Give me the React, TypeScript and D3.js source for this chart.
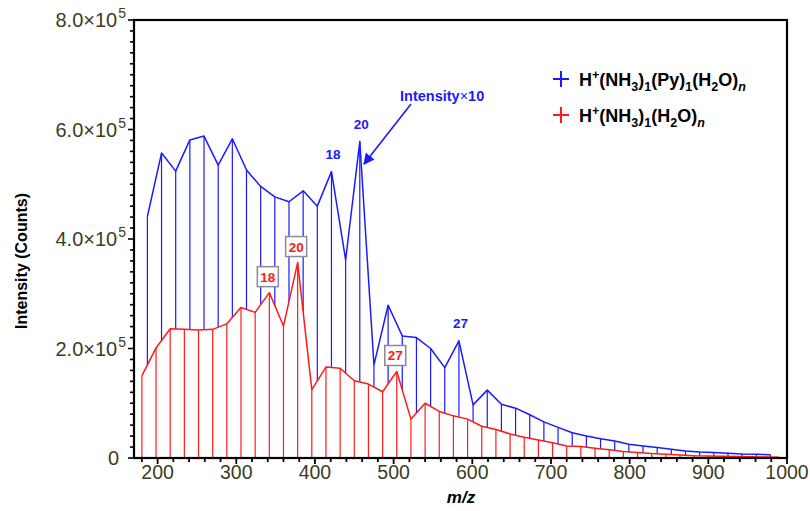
import React from "react";
import * as d3 from "d3";

const blueMz = [187,205,223,241,259,277,295,313,331,349,367,385,403,421,439,457,475,493,511,529,547,565,583,601,619,637,655,673,691,709,727,745,763,781,799,817,835,853,871,889,907,925,943,961,979];
const blueVal = [4.41,5.57,5.24,5.81,5.88,5.35,5.83,5.26,4.96,4.77,4.68,4.88,4.60,5.23,3.62,5.78,1.70,2.79,2.23,2.20,2.00,1.65,2.14,0.97,1.24,0.98,0.91,0.79,0.66,0.56,0.46,0.40,0.35,0.31,0.25,0.22,0.19,0.16,0.13,0.11,0.10,0.085,0.073,0.068,0.06];
const redMz = [180,198,216,234,252,270,288,306,324,342,360,378,396,414,432,450,468,486,504,522,540,558,576,594,612,630,648,666,684,702,720,738,756,774,792,810,828,846,864,882,900,918,936,954,972,990];
const redVal = [1.50,2.01,2.36,2.35,2.34,2.35,2.45,2.75,2.66,3.02,2.41,3.57,1.25,1.66,1.64,1.41,1.35,1.21,1.58,0.71,1.00,0.85,0.77,0.71,0.58,0.52,0.44,0.38,0.33,0.28,0.22,0.21,0.18,0.15,0.12,0.10,0.08,0.068,0.055,0.042,0.036,0.03,0.028,0.025,0.02,0.015];
const blueLabels = [{ mz: 421, text: "18" }, { mz: 457, text: "20" }, { mz: 583, text: "27" }];
const redLabels = [{ mz: 342, text: "18" }, { mz: 378, text: "20" }, { mz: 504, text: "27" }];
const xTickLabels = [200, 300, 400, 500, 600, 700, 800, 900, 1000];
const yTickMantissa = [2.0, 4.0, 6.0, 8.0];

const SCALE = 1e5;
const BLUE = "#1a1aff";
const RED = "#ff1a1a";
const TICKCOL = "#3c3c1e";
const FONT = "'Liberation Sans', Arial, sans-serif";

export default function App() {
  const x = d3.scaleLinear().domain([170, 1000]).range([134, 787]);
  const y = d3.scaleLinear().domain([0, 8e5]).range([458, 20]);
  const blue = blueMz.map((m, i) => ({ m, v: blueVal[i] * SCALE }));
  const red = redMz.map((m, i) => ({ m, v: redVal[i] * SCALE }));
  const line = d3.line<{ m: number; v: number }>().x(d => x(d.m)).y(d => y(d.v));
  const area = d3.area<{ m: number; v: number }>().x(d => x(d.m)).y0(y(0)).y1(d => y(d.v));
  const xMinor = d3.range(180, 1001, 20);
  const yMinor = d3.range(0, 8e5 + 1, 2e4);
  const valAt = (arr: { m: number; v: number }[], m: number) => arr.find(d => d.m === m)!.v;

  const sub = (t: string, italic = false) => (
    <tspan dy={4.5} fontSize={12.5} fontStyle={italic ? "italic" : undefined}>{t}</tspan>
  );

  return (
    <svg width={810} height={511} style={{ position: "absolute", left: 0, top: 0, background: "#fff" }} fontFamily={FONT}>
      <defs>
        <marker id="arr" viewBox="0 0 10 10" refX="9" refY="5" markerWidth="7" markerHeight="7" orient="auto">
          <path d="M0,0 L10,5 L0,10 z" fill={BLUE} />
        </marker>
      </defs>
      {/* blue stems */}
      {blue.map(d => (
        <line key={"bs" + d.m} x1={x(d.m)} x2={x(d.m)} y1={y(d.v)} y2={y(0)} stroke={BLUE} strokeWidth={1.2} />
      ))}
      <path d={line(blue)!} fill="none" stroke={BLUE} strokeWidth={1.5} strokeLinejoin="round" />
      {/* red area covering */}
      <path d={area(red)!} fill="#fff" stroke="none" />
      {red.map(d => (
        <line key={"rs" + d.m} x1={x(d.m)} x2={x(d.m)} y1={y(d.v)} y2={y(0)} stroke={RED} strokeWidth={1.2} />
      ))}
      <path d={line(red)!} fill="none" stroke={RED} strokeWidth={1.5} strokeLinejoin="round" />

      {/* frame */}
      <rect x={134} y={20} width={653} height={438} fill="none" stroke="#000" strokeWidth={2.2} />

      {/* x ticks */}
      {xMinor.map(t => (
        <line key={"xt" + t} x1={x(t)} x2={x(t)} y1={459} y2={t % 100 === 0 ? 464 : 462} stroke="#000" strokeWidth={1.8} />
      ))}
      {xTickLabels.map(t => (
        <text key={"xl" + t} x={x(t)} y={479} textAnchor="middle" fontSize={19.5} fill={TICKCOL}>{t}</text>
      ))}
      {/* y ticks */}
      {yMinor.map(t => (
        <line key={"yt" + t} x1={133} x2={t % 2e5 === 0 ? 128 : 130} y1={y(t)} y2={y(t)} stroke="#000" strokeWidth={1.6} />
      ))}
      <text x={119} y={y(0) + 7} textAnchor="end" fontSize={20} fill={TICKCOL}>0</text>
      {yTickMantissa.map(mv => (
        <text key={"yl" + mv} x={126} y={y(mv * SCALE) + 7} textAnchor="end" fontSize={20} fill={TICKCOL}>
          {mv.toFixed(1)}×10<tspan dx={1} dy={-9} fontSize={14}>5</tspan>
        </text>
      ))}

      {/* axis titles */}
      <text transform={`translate(27,${(y(0) + y(8e5)) / 2 + 22}) rotate(-90)`} textAnchor="middle" fontSize={16} fontWeight="bold" fill="#000">Intensity (Counts)</text>
      <text x={461} y={503} textAnchor="middle" fontSize={17} fontWeight="bold" fontStyle="italic" fill="#000">m/z</text>

      {/* blue labels */}
      {blueLabels.map(l => (
        <text key={"bl" + l.text} x={x(l.mz) + 1.5} y={y(valAt(blue, l.mz)) - 13} textAnchor="middle" fontSize={13.5} fontWeight="bold" fill={BLUE}>{l.text}</text>
      ))}
      {/* red labels */}
      {redLabels.map(l => {
        const cx = x(l.mz) - 1.5;
        const cy = y(valAt(red, l.mz)) - 16;
        return (
          <g key={"rl" + l.text}>
            <rect x={cx - 10.5} y={cy - 10} width={21} height={20} fill="#fff" stroke="#8a8a9a" strokeWidth={1.5} />
            <text x={cx} y={cy + 5} textAnchor="middle" fontSize={13.5} fontWeight="bold" fill={RED}>{l.text}</text>
          </g>
        );
      })}

      {/* Intensity x10 annotation */}
      <text x={400} y={101} fontSize={14.5} fontWeight="bold" fill={BLUE}>Intensity<tspan fontWeight="normal">×</tspan>10</text>
      <line x1={411} y1={104} x2={364} y2={164} stroke={BLUE} strokeWidth={1.6} markerEnd="url(#arr)" />

      {/* legend */}
      <g>
        <line x1={553} x2={569} y1={79} y2={79} stroke={BLUE} strokeWidth={2} />
        <line x1={561} x2={561} y1={71} y2={87} stroke={BLUE} strokeWidth={2} />
        <text x={579} y={86} fontSize={18} fontWeight="bold" fill="#000">
          H<tspan dy={-7.5} fontSize={12.5}>+</tspan><tspan dy={7.5}>(NH</tspan>{sub("3")}<tspan dy={-4.5}>)</tspan>{sub("1")}<tspan dy={-4.5}>(Py)</tspan>{sub("1")}<tspan dy={-4.5}>(H</tspan>{sub("2")}<tspan dy={-4.5}>O)</tspan>{sub("n", true)}
        </text>
        <line x1={553} x2={569} y1={115} y2={115} stroke={RED} strokeWidth={2} />
        <line x1={561} x2={561} y1={107} y2={123} stroke={RED} strokeWidth={2} />
        <text x={579} y={122} fontSize={18} fontWeight="bold" fill="#000">
          H<tspan dy={-7.5} fontSize={12.5}>+</tspan><tspan dy={7.5}>(NH</tspan>{sub("3")}<tspan dy={-4.5}>)</tspan>{sub("1")}<tspan dy={-4.5}>(H</tspan>{sub("2")}<tspan dy={-4.5}>O)</tspan>{sub("n", true)}
        </text>
      </g>
    </svg>
  );
}
